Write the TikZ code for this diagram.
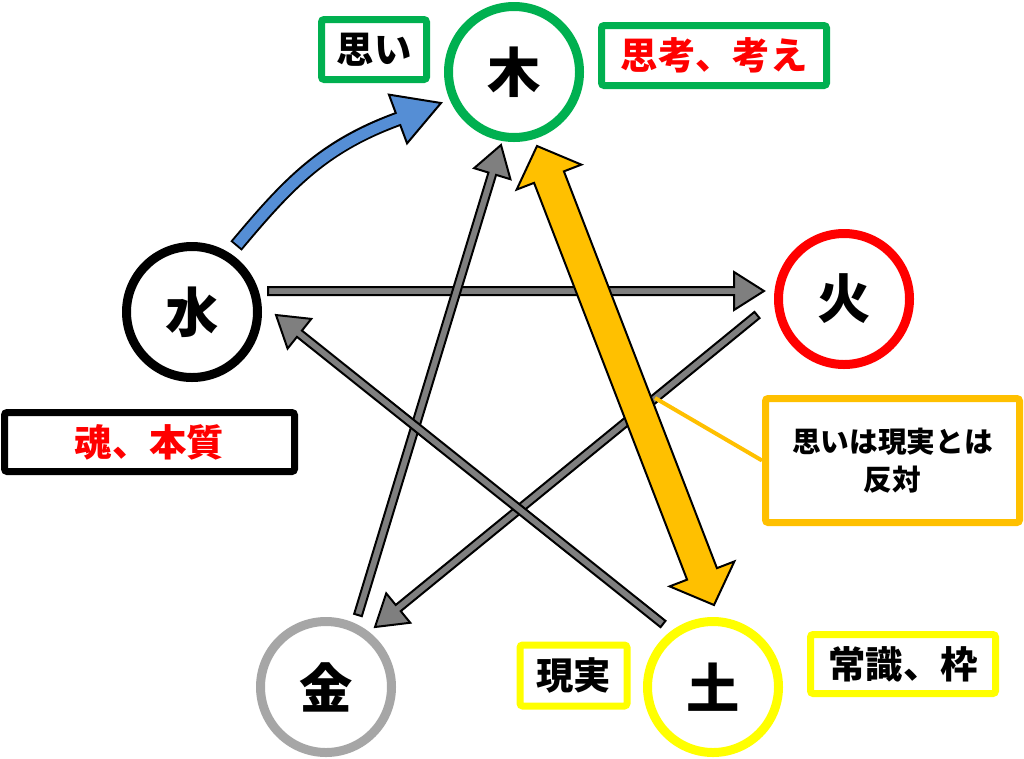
\documentclass[tikz,border=0pt]{standalone}
\usepackage{fontspec}
\usetikzlibrary{calc}
\IfFontExistsTF{Noto Sans CJK JP Black}
  {\newfontfamily\jpfont{Noto Sans CJK JP Black}[BoldFont={Noto Sans CJK JP Black}]}
  {\newfontfamily\jpfont{Noto Sans CJK JP}}

\definecolor{mokugreen}{HTML}{00B050}
\definecolor{kared}{HTML}{FF0000}
\definecolor{doyellow}{HTML}{FFFF00}
\definecolor{kingray}{HTML}{A6A6A6}
\definecolor{calloutorange}{HTML}{FFC000}
\definecolor{arrowgray}{HTML}{7F7F7F}
\definecolor{omoiblue}{HTML}{558ED5}

% block arrow: style, from, to, half shaft, half head, head length
\newcommand\fatarrow[6]{%
  \coordinate (fa-b) at ($(#3)!#6!(#2)$);
  \path[#1] ($(#2)!#4!90:(#3)$) -- ($(fa-b)!#4!90:(#3)$) -- ($(fa-b)!#5!90:(#3)$)
    -- (#3) -- ($(fa-b)!#5!-90:(#3)$) -- ($(fa-b)!#4!-90:(#3)$) -- ($(#2)!#4!-90:(#3)$) -- cycle;
}
% double block arrow: style, end, end, half shaft, half head, head length
\newcommand\dblarrow[6]{%
  \coordinate (da-a) at ($(#2)!#6!(#3)$);
  \coordinate (da-b) at ($(#3)!#6!(#2)$);
  \path[#1] (#2) -- ($(da-a)!#5!90:(#3)$) -- ($(da-a)!#4!90:(#3)$) -- ($(da-b)!#4!90:(#3)$)
    -- ($(da-b)!#5!90:(#3)$) -- (#3) -- ($(da-b)!#5!-90:(#3)$) -- ($(da-b)!#4!-90:(#3)$)
    -- ($(da-a)!#4!-90:(#3)$) -- ($(da-a)!#5!-90:(#3)$) -- cycle;
}

\begin{document}
\begin{tikzpicture}[x=0.75pt,y=-0.75pt,
  elem/.style={circle,draw=#1,line width=6.75pt,minimum size=98.25pt,inner sep=0pt,fill=white,
    font=\jpfont\bfseries\fontsize{40}{40}\selectfont},
  tag/.style={draw=#1,line width=5.25pt,rounded corners=2pt,inner sep=0pt,fill=white,
    font=\jpfont\bfseries\fontsize{28}{28}\selectfont},
  grayarrow/.style={fill=arrowgray,draw=black,line width=1.5pt},
  orangearrow/.style={fill=calloutorange,draw=black,line width=1.5pt},
  callout/.style={calloutorange,line width=3pt}]
\useasboundingbox (0,0) rectangle (1024,758);
\fill[white] (0,0) rectangle (1024,758);

% arrow ends
\coordinate (sk1) at (268,291); \coordinate (sk2) at (764,291);
\coordinate (ds1) at (663,624); \coordinate (ds2) at (276,315);
\coordinate (kk1) at (757,315); \coordinate (kk2) at (375,627);
\coordinate (km1) at (358,615); \coordinate (km2) at (501,145);
\coordinate (od1) at (537,146); \coordinate (od2) at (714,605);
\coordinate (bl1) at (236,246); \coordinate (bl2) at (398,119); \coordinate (bl3) at (441,103);
\coordinate (cl1) at (655,398);

% five elements
\node[elem=mokugreen] (moku) at (514,72) {木};
\node[elem=kared] (ka) at (844,299) {火};
\node[elem=doyellow] (do) at (713,687) {土};
\node[elem=kingray] (kin) at (326,687) {金};
\node[elem=black] (sui) at (192,312) {水};

% labels
\node[tag=mokugreen,minimum width=78.75pt,minimum height=45pt] (omoi) at (374,49.5) {思い};
\node[tag=mokugreen,text=kared,minimum width=168.75pt,minimum height=45pt] (shikou) at (714,55.5) {思考、考え};
\node[tag=black,text=kared,minimum width=217.5pt,minimum height=44.25pt] (tamashii) at (149.5,442) {魂、本質};
\node[tag=calloutorange,align=center,minimum width=190.5pt,minimum height=93pt,
  font=\jpfont\bfseries\fontsize{21.5}{28}\selectfont] (hantai) at (892.5,460.5) {思いは現実とは\\反対};
\node[tag=doyellow,minimum width=138.75pt,minimum height=44.25pt] (joushiki) at (903,664) {常識、枠};
\node[tag=doyellow,minimum width=80.25pt,minimum height=45.75pt] (genjitsu) at (573.5,675.5) {現実};

% cycle arrows
\fatarrow{grayarrow}{sk1}{sk2}{3pt}{14.25pt}{22.5pt}
\fatarrow{grayarrow}{kk1}{kk2}{3pt}{14.25pt}{22.5pt}
\fatarrow{grayarrow}{km1}{km2}{3pt}{14.25pt}{22.5pt}
\fatarrow{grayarrow}{ds1}{ds2}{3pt}{14.25pt}{22.5pt}

\draw[callout] (cl1) -- (hantai.west);
\dblarrow{orangearrow}{od1}{od2}{12pt}{26pt}{25pt}

% curved arrow
\draw[line width=11pt,black] (bl1) to[out=50,in=200] (bl2);
\filldraw[fill=omoiblue,draw=black,line width=1.5pt] ($(bl2)!19.5pt!90:(bl3)$) -- (bl3) -- ($(bl2)!19.5pt!-90:(bl3)$) -- cycle;
\draw[line width=8pt,omoiblue,shorten <=1.5pt,shorten >=-2pt] (bl1) to[out=50,in=200] (bl2);
\end{tikzpicture}
\end{document}
